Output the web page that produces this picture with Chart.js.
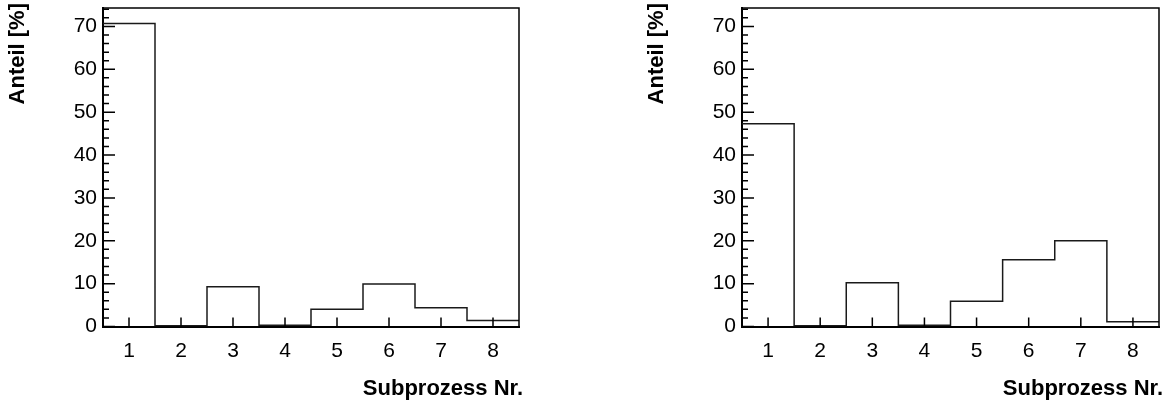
<!DOCTYPE html>
<html>
<head>
<meta charset="utf-8">
<script src="https://cdn.jsdelivr.net/npm/chart.js@4.4.1/dist/chart.umd.min.js"></script>
<style>
  body { margin: 0; background: #fff; }
  #links { position: absolute; left: 0; top: 0; }
  #rechts { position: absolute; left: 640px; top: 0; }
</style>
</head>
<body>
<canvas id="links" width="585" height="406"></canvas>
<canvas id="rechts" width="531" height="406"></canvas>
<script>
// DATEN
var subprozesse = [1, 2, 3, 4, 5, 6, 7, 8];
var anteilLinks = [70.7, 0.2, 9.3, 0.3, 4.0, 9.9, 4.4, 1.4];
var anteilRechts = [47.3, 0.2, 10.2, 0.3, 5.9, 15.6, 20.0, 1.1];
var yTicks = [0, 10, 20, 30, 40, 50, 60, 70];
var yMax = 74.3;
var xTitel = 'Subprozess Nr.';
var yTitel = 'Anteil [%]';

var schrift = "'Liberation Sans', Arial, Helvetica, sans-serif";

// HISTOGRAMM ALS STUFENLINIE (BIN-KANTEN)
function stufen(werte) {
    var punkte = [];
    for (var i = 0; i < subprozesse.length; i++) {
        punkte.push({ x: subprozesse[i] - 0.5, y: werte[i] });
    }
    var n = subprozesse.length - 1;
    punkte.push({ x: subprozesse[n] + 0.5, y: werte[n] });
    return punkte;
}

// TICKS NACH INNEN, RAHMEN UND ACHSENTITEL
var rahmen = {
    id: 'rahmen',
    afterDatasetsDraw: function (chart) {
        var ctx = chart.ctx;
        var a = chart.chartArea;
        var sx = chart.scales.x;
        var sy = chart.scales.y;
        ctx.save();
        ctx.strokeStyle = '#000';
        ctx.lineWidth = 1.5;
        ctx.beginPath();
        for (var i = 0; i * 2 <= sy.max; i++) {
            var py = sy.getPixelForValue(i * 2);
            var largo = (i % 5 === 0) ? 12 : 6;
            ctx.moveTo(a.left, py);
            ctx.lineTo(a.left + largo, py);
        }
        for (var j = 0; j < subprozesse.length; j++) {
            var px = sx.getPixelForValue(subprozesse[j]);
            ctx.moveTo(px, a.bottom);
            ctx.lineTo(px, a.bottom - 9);
        }
        ctx.stroke();
        ctx.beginPath();
        ctx.moveTo(a.left, a.top);
        ctx.lineTo(a.right, a.top);
        ctx.lineTo(a.right, a.bottom);
        ctx.stroke();

        // titel
        ctx.fillStyle = '#000';
        ctx.font = 'bold 22px ' + schrift;
        ctx.textBaseline = 'middle';
        ctx.textAlign = 'right';
        ctx.fillText(xTitel, a.right + 4, 389);
        ctx.translate(a.left - 85, 3);
        ctx.rotate(-Math.PI / 2);
        ctx.fillText(yTitel, 0, 0);
        ctx.restore();
    }
};

function zeichne(id, werte, yBreite, rechtsPad) {
    return new Chart(document.getElementById(id), {
        type: 'line',
        data: {
            datasets: [{
                data: stufen(werte),
                stepped: 'before',
                borderColor: '#1a1a1a',
                borderWidth: 1.5,
                pointRadius: 0,
                fill: false
            }]
        },
        options: {
            responsive: false,
            animation: false,
            devicePixelRatio: 1,
            layout: { padding: { top: 8, right: rechtsPad, left: 0, bottom: 0 } },
            plugins: { legend: { display: false }, tooltip: { enabled: false } },
            scales: {
                x: {
                    type: 'linear',
                    min: 0.5,
                    max: 8.5,
                    afterFit: function (s) {
                        s.height = 79.5;
                        s.paddingLeft = 0;
                        s.paddingRight = 0;
                    },
                    afterBuildTicks: function (s) {
                        s.ticks = subprozesse.map(function (v) { return { value: v }; });
                    },
                    grid: { display: false, drawTicks: false },
                    border: { color: '#000', width: 2 },
                    ticks: {
                        autoSkip: false,
                        maxRotation: 0,
                        padding: 12,
                        color: '#000',
                        font: { family: schrift, size: 21 }
                    }
                },
                y: {
                    min: 0,
                    max: yMax,
                    afterFit: function (s) {
                        s.width = yBreite;
                        s.paddingTop = 0;
                        s.paddingBottom = 0;
                    },
                    afterBuildTicks: function (s) {
                        s.ticks = yTicks.map(function (v) { return { value: v }; });
                    },
                    grid: { display: false, drawTicks: false },
                    border: { color: '#000', width: 2 },
                    ticks: {
                        padding: 6,
                        color: '#000',
                        font: { family: schrift, size: 21 }
                    }
                }
            }
        },
        plugins: [rahmen]
    });
}

zeichne('links', anteilLinks, 103, 66);
zeichne('rechts', anteilRechts, 102, 12);
</script>
</body>
</html>
